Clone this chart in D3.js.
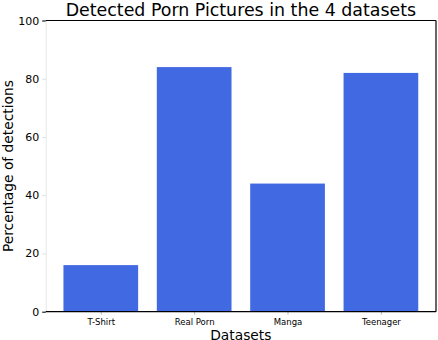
<!DOCTYPE html>
<html><head><meta charset="utf-8">
<script src="https://cdn.jsdelivr.net/npm/d3@7"></script>
<style>body{margin:0;background:#fff}svg{display:block;font-family:"DejaVu Sans",sans-serif}</style>
</head><body><svg id="c" width="438" height="340"></svg>
<script>
const categories = ["T-Shirt", "Real Porn", "Manga", "Teenager"];
const values = [16, 84, 44, 82];
const yTicks = [0, 20, 40, 60, 80, 100];
const title = "Detected Porn Pictures in the 4 datasets";
const xLabel = "Datasets";
const yLabel = "Percentage of detections";

const svg = d3.select("#c");
const L = 45.7, R = 436, T = 20.5, B = 311.7;
const x = d3.scaleLinear().domain([-0.59, categories.length - 1 + 0.59]).range([L, R]);
const y = d3.scaleLinear().domain([0, 100]).range([B, T]);

svg.append("g").selectAll("rect").data(values).join("rect")
  .attr("x", (d, i) => x(i - 0.4)).attr("width", (d, i) => x(i + 0.4) - x(i - 0.4))
  .attr("y", d => y(d)).attr("height", d => B - y(d)).attr("fill", "#4169E1");

// y axis
const ya = svg.append("g").attr("transform", `translate(${L},0)`)
  .call(d3.axisLeft(y).tickValues(yTicks).tickSize(3.5).tickPadding(3));
ya.select(".domain").attr("stroke", "#e8e8e8").attr("stroke-width", 1);
ya.selectAll(".tick line").attr("stroke", d => (d === 0 || d === 100) ? "#000" : "#ddd");
ya.selectAll(".tick text").attr("font-size", 11).attr("fill", "#000").attr("font-family", "DejaVu Sans");

// x axis
const xa = svg.append("g").attr("transform", `translate(0,${B})`)
  .call(d3.axisBottom(x).tickValues(d3.range(categories.length)).tickFormat(i => categories[i]).tickSize(3).tickPadding(4));
xa.select(".domain").remove();
xa.selectAll(".tick line").attr("stroke", "#bbb");
xa.selectAll(".tick text").attr("font-size", 8.5).attr("fill", "#000").attr("font-family", "DejaVu Sans");

// spines
svg.append("line").attr("x1", L).attr("x2", R).attr("y1", T).attr("y2", T).attr("stroke", "#000").attr("stroke-width", 1.2);
svg.append("line").attr("x1", L).attr("x2", R).attr("y1", B).attr("y2", B).attr("stroke", "#000").attr("stroke-width", 1.2);
svg.append("line").attr("x1", R).attr("x2", R).attr("y1", T).attr("y2", B).attr("stroke", "#000").attr("stroke-width", 1.2);

svg.append("text").attr("x", (L + R) / 2).attr("y", 15.5).attr("text-anchor", "middle")
  .attr("font-size", 17.4).attr("fill", "#000").text(title);
svg.append("text").attr("x", (L + R) / 2).attr("y", 340).attr("text-anchor", "middle")
  .attr("font-size", 13.8).attr("fill", "#000").text(xLabel);
svg.append("text").attr("transform", `translate(13,${(T + B) / 2}) rotate(-90)`).attr("text-anchor", "middle")
  .attr("font-size", 13.8).attr("fill", "#000").text(yLabel);
</script></body></html>
